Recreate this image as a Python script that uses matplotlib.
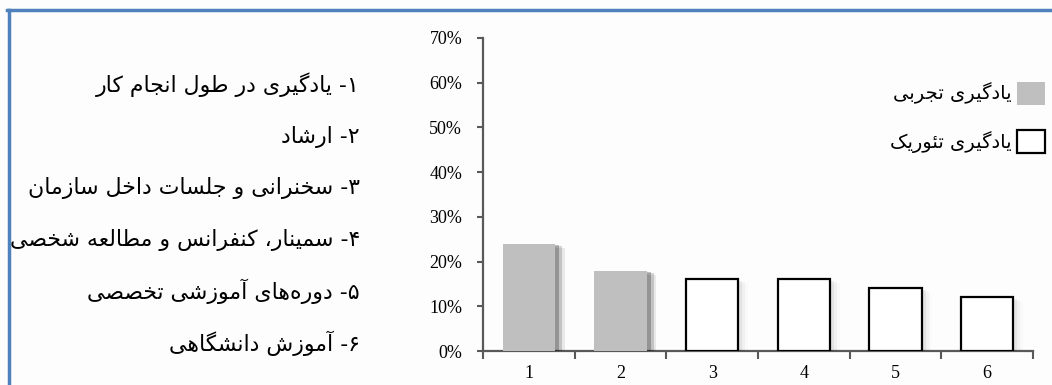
import matplotlib
matplotlib.use("Agg")
import matplotlib.pyplot as plt
import matplotlib.patheffects as pe
from matplotlib.lines import Line2D

# chart data
categories = [1, 2, 3, 4, 5, 6]
values = [24, 18, 16, 16, 14, 12]
kinds = ["exp", "exp", "theo", "theo", "theo", "theo"]
yticks = [0, 10, 20, 30, 40, 50, 60, 70]
items = [
    "۱- یادگیری در طول انجام کار",
    "۲- ارشاد",
    "۳- سخنرانی و جلسات داخل سازمان",
    "۴- سمینار، کنفرانس و مطالعه شخصی",
    "۵- دوره\u200cهای آموزشی تخصصی",
    "۶- آموزش دانشگاهی",
]
legend_labels = ["یادگیری تجربی", "یادگیری تئوریک"]

# minimal Persian shaping: (isolated, final, initial, medial) presentation forms
FORMS = {
    "ا": (0xFE8D, 0xFE8E), "آ": (0xFE81, 0xFE82), "د": (0xFEA9, 0xFEAA),
    "ر": (0xFEAD, 0xFEAE), "ز": (0xFEAF, 0xFEB0), "و": (0xFEED, 0xFEEE),
    "ب": (0xFE8F, 0xFE90, 0xFE91, 0xFE92), "ت": (0xFE95, 0xFE96, 0xFE97, 0xFE98),
    "ج": (0xFE9D, 0xFE9E, 0xFE9F, 0xFEA0), "خ": (0xFEA5, 0xFEA6, 0xFEA7, 0xFEA8),
    "س": (0xFEB1, 0xFEB2, 0xFEB3, 0xFEB4), "ش": (0xFEB5, 0xFEB6, 0xFEB7, 0xFEB8),
    "ص": (0xFEB9, 0xFEBA, 0xFEBB, 0xFEBC), "ط": (0xFEC1, 0xFEC2, 0xFEC3, 0xFEC4),
    "ع": (0xFEC9, 0xFECA, 0xFECB, 0xFECC), "ف": (0xFED1, 0xFED2, 0xFED3, 0xFED4),
    "ل": (0xFEDD, 0xFEDE, 0xFEDF, 0xFEE0), "م": (0xFEE1, 0xFEE2, 0xFEE3, 0xFEE4),
    "ن": (0xFEE5, 0xFEE6, 0xFEE7, 0xFEE8), "ه": (0xFEE9, 0xFEEA, 0xFEEB, 0xFEEC),
    "ئ": (0xFE89, 0xFE8A, 0xFE8B, 0xFE8C), "ک": (0xFB8E, 0xFB8F, 0xFB90, 0xFB91),
    "گ": (0xFB92, 0xFB93, 0xFB94, 0xFB95), "ی": (0xFBFC, 0xFBFD, 0xFBFE, 0xFBFF),
}


def rtl(text):
    out = []
    for i, ch in enumerate(text):
        if ch not in FORMS:
            out.append(ch)
            continue
        forms = FORMS[ch]
        prev = text[i - 1] if i > 0 else None
        nxt = text[i + 1] if i + 1 < len(text) else None
        jp = prev in FORMS and len(FORMS[prev]) == 4
        jn = len(forms) == 4 and nxt in FORMS
        if jp and jn:
            out.append(chr(forms[3]))
        elif jp:
            out.append(chr(forms[1]))
        elif jn:
            out.append(chr(forms[2]))
        else:
            out.append(chr(forms[0]))
    return "".join(out).replace("\u200c", "")[::-1]


W, H = 1052, 385
fig = plt.figure(figsize=(W / 100, H / 100), dpi=100)
fig.patch.set_facecolor("#fdfdfd")

# blue frame (top and left edges visible)
blue = "#4f81bd"
fig.add_artist(Line2D([7 / W, 1], [1 - 10 / H] * 2, transform=fig.transFigure, color=blue, lw=2.5))
fig.add_artist(Line2D([8.5 / W] * 2, [0, 1 - 10 / H], transform=fig.transFigure, color=blue, lw=2.5))

ax = fig.add_axes([483 / W, 34 / H, (1033 - 483) / W, (347 - 34) / H])
ax.set_facecolor("none")

fill = {"exp": "#bfbfbf", "theo": "white"}
edge = {"exp": "#bfbfbf", "theo": "black"}
shadow_alpha = {"exp": 0.16, "theo": 0.035}
bars = {}
for c, v, k in zip(categories, values, kinds):
    b = ax.bar(c, v, width=0.57, color=fill[k], edgecolor=edge[k],
               linewidth=1.6 if k == "theo" else 0, zorder=3)
    a = shadow_alpha[k]
    b[0].set_path_effects([
        pe.SimplePatchShadow(offset=(7, -3), shadow_rgbFace="k", alpha=a * 0.5),
        pe.SimplePatchShadow(offset=(5, -2), shadow_rgbFace="k", alpha=a),
        pe.SimplePatchShadow(offset=(3, -1), shadow_rgbFace="k", alpha=a * 1.5),
        pe.Normal(),
    ])
    bars.setdefault(k, b)

ax.set_xlim(0.5, 6.5)
ax.set_ylim(0, 70)
ax.set_yticks(yticks)
ax.set_yticklabels([f"{t}%" for t in yticks], family="Liberation Serif", fontsize=13)
ax.set_xticks([c + 0.5 for c in [0] + categories])
ax.set_xticklabels([])
ax.set_xticks(categories, minor=True)
ax.set_xticklabels([str(c) for c in categories], minor=True, family="Liberation Serif", fontsize=13)
ax.tick_params(axis="x", which="minor", length=0, pad=10)
ax.tick_params(axis="x", which="major", length=6, width=1.5, color="#595959")
ax.tick_params(axis="y", length=4, width=1.5, color="#595959", pad=11)
for s in ["top", "right"]:
    ax.spines[s].set_visible(False)
for s in ["left", "bottom"]:
    ax.spines[s].set_color("#595959")
    ax.spines[s].set_linewidth(1.6)

# category list on the left
for i, t in enumerate(items):
    fig.text(360 / W, 1 - (85 + 51.6 * i) / H, rtl(t), ha="right", va="center",
             family="DejaVu Sans", fontsize=15.8, color="black")

leg = ax.legend([bars["exp"], bars["theo"]], [rtl(l) for l in legend_labels],
                loc="upper right", bbox_to_anchor=(1055 / W, 1 - 72 / H),
                bbox_transform=fig.transFigure, markerfirst=False, frameon=False,
                prop={"family": "DejaVu Sans", "size": 14}, handlelength=1.45,
                handleheight=1.45, labelspacing=1.3, handletextpad=0.3, borderpad=0)
for h in leg.legend_handles:
    h.set_path_effects([])

fig.savefig("out.png", dpi=100)
